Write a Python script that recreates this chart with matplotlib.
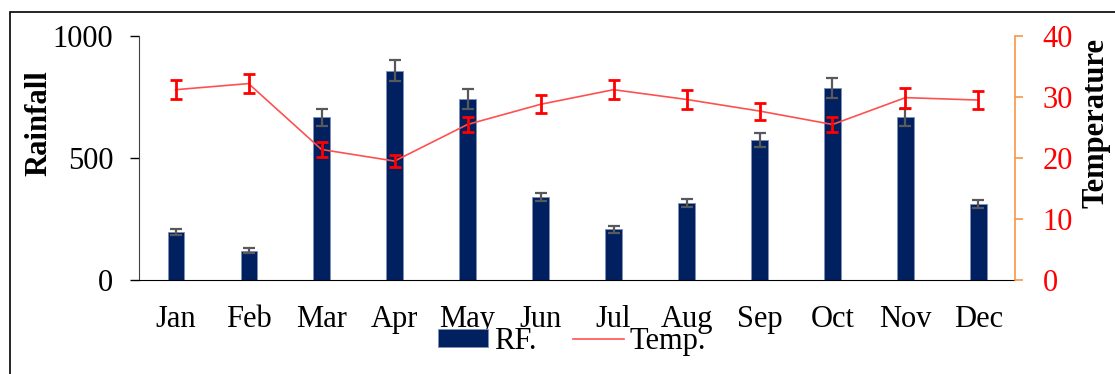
import matplotlib.pyplot as plt
from matplotlib.patches import Rectangle

months = ['Jan', 'Feb', 'Mar', 'Apr', 'May', 'Jun', 'Jul', 'Aug', 'Sep', 'Oct', 'Nov', 'Dec']
rainfall = [198, 120, 667, 858, 741, 341, 208, 316, 575, 787, 667, 310]
rain_err = [12, 10, 34, 42, 40, 16, 14, 16, 29, 40, 34, 16]
temp = [31.2, 32.2, 21.4, 19.5, 25.5, 28.8, 31.2, 29.6, 27.7, 25.5, 29.9, 29.5]
temp_err = [1.6, 1.6, 1.2, 0.95, 1.3, 1.5, 1.55, 1.5, 1.4, 1.3, 1.65, 1.5]

plt.rcParams['font.family'] = ['Liberation Serif', 'DejaVu Serif']
plt.rcParams['font.size'] = 22

fig = plt.figure(figsize=(11.15, 3.74), dpi=100)
ax = fig.add_axes([0.1247, 0.2513, 0.7856, 0.6524])
x = list(range(len(months)))

ax.bar(x, rainfall, width=0.22, color='#002060', edgecolor='#8090B8', linewidth=0.6,
       label='RF.', zorder=2)
ax.errorbar(x, rainfall, yerr=rain_err, fmt='none', ecolor='#595959', elinewidth=1.6,
            capsize=4, capthick=1.6, zorder=3)
ax.set_xlim(-0.5, 11.5)
ax.set_ylim(0, 1000)
ax.set_yticks([0, 500, 1000])
ax.set_xticks(x)
ax.set_xticklabels(months)
ax.tick_params(axis='x', length=0, pad=18)
ax.tick_params(axis='y', length=6.5, width=1, direction='out', pad=12)
ax.set_ylabel('Rainfall', fontweight='bold', va='center', ha='center')
ax.yaxis.set_label_coords(-0.114, 0.645)
ax.spines['top'].set_visible(False)
ax.spines['right'].set_visible(False)
ax.spines['left'].set_color('#404040')

ax2 = ax.twinx()
ax2.plot(x, temp, color='#FF5050', linewidth=1.2, label='Temp.', zorder=4)
ax2.errorbar(x, temp, yerr=temp_err, fmt='none', ecolor='#FF0000', elinewidth=2,
             capsize=4, capthick=2, zorder=5)
ax2.set_ylim(0, 40)
ax2.set_yticks([0, 10, 20, 30, 40])
ax2.tick_params(axis='y', colors='#F79646', labelcolor='#FF0000', length=6, width=1.2, pad=14)
ax2.set_ylabel('Temperature', fontweight='bold', va='center', ha='center')
ax2.yaxis.set_label_coords(1.093, 0.645)
ax2.spines['top'].set_visible(False)
ax2.spines['left'].set_visible(False)
ax2.spines['bottom'].set_visible(False)
ax2.spines['right'].set_color('#F79646')
ax2.spines['right'].set_linewidth(1.2)

h1, l1 = ax.get_legend_handles_labels()
h2, l2 = ax2.get_legend_handles_labels()
fig.legend(h1 + h2, l1 + l2, loc='center', bbox_to_anchor=(0.513, 0.088), ncol=2,
           frameon=False, handlelength=1.65, handletextpad=0.2, columnspacing=1.2,
           borderpad=0, handleheight=0.55)

# outer frame
fig.patches.append(Rectangle((10 / 1115, -0.1), 1.2, 1.1 - 12 / 374, transform=fig.transFigure,
                             fill=False, edgecolor='black', linewidth=1.2))

fig.savefig('out.png', dpi=100)
